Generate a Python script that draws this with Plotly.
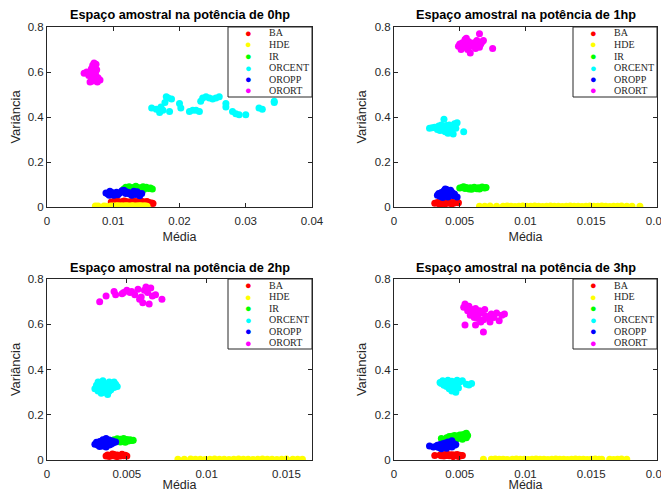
import plotly.graph_objects as go

# ---------------- data ----------------
names = ["BA", "HDE", "IR", "ORCENT", "OROPP", "ORORT"]
colors = ["#FF0000", "#FFFF00", "#00FF00", "#00FFFF", "#0000FF", "#FF00FF"]
titles = ["Espaço amostral na potência de 0hp", "Espaço amostral na potência de 1hp",
          "Espaço amostral na potência de 2hp", "Espaço amostral na potência de 3hp"]
x_label = "Média"
y_label = "Variância"

# ---- 0hp ----
ba_x0 = [0.0097, 0.0101, 0.0105, 0.0108, 0.0112, 0.0115, 0.0118, 0.0121, 0.0124, 0.0127, 0.0130, 0.0133, 0.0136,
         0.0139, 0.0142, 0.0145, 0.0148, 0.0151, 0.0154, 0.0158, 0.0160, 0.0103, 0.0117, 0.0131, 0.0144]
ba_y0 = [0.022, 0.025, 0.020, 0.024, 0.018, 0.026, 0.021, 0.023, 0.019, 0.025, 0.022, 0.020, 0.024,
         0.021, 0.023, 0.019, 0.022, 0.024, 0.020, 0.018, 0.016, 0.028, 0.027, 0.026, 0.025]
hde_x0 = [0.0073, 0.0077, 0.0086, 0.0089, 0.0096, 0.0099, 0.0101, 0.0103, 0.0105, 0.0107, 0.0109, 0.0111, 0.0113,
          0.0115, 0.0117, 0.0119, 0.0121, 0.0123, 0.0125, 0.0127, 0.0129, 0.0131, 0.0133, 0.0135, 0.0137, 0.0139,
          0.0141, 0.0143, 0.0145, 0.0147, 0.0149, 0.0151]
hde_y0 = [0.004, 0.004, 0.004, 0.003, 0.005, 0.004, 0.003, 0.005, 0.004, 0.006, 0.003, 0.004, 0.005,
          0.004, 0.003, 0.006, 0.004, 0.005, 0.003, 0.004, 0.006, 0.004, 0.003, 0.005, 0.004, 0.004,
          0.006, 0.003, 0.004, 0.005, 0.004, 0.003]
ir_x0 = [0.0116, 0.0119, 0.0122, 0.0124, 0.0127, 0.0130, 0.0132, 0.0135, 0.0137, 0.0140, 0.0142, 0.0145, 0.0147,
         0.0150, 0.0153, 0.0156, 0.0159, 0.0121, 0.0134, 0.0146]
ir_y0 = [0.080, 0.088, 0.085, 0.090, 0.083, 0.087, 0.078, 0.089, 0.084, 0.086, 0.080, 0.090, 0.085,
         0.088, 0.082, 0.084, 0.080, 0.076, 0.092, 0.078]
orcent_x0 = [0.0158, 0.0165, 0.0170, 0.0172, 0.0175, 0.0178, 0.0180, 0.0183, 0.0185, 0.0188, 0.0200, 0.0202,
             0.0215, 0.0220, 0.0225, 0.0230, 0.0232, 0.0235, 0.0240, 0.0245, 0.0250, 0.0255, 0.0260, 0.0270,
             0.0270, 0.0280, 0.0285, 0.0290, 0.0300, 0.0320, 0.0325, 0.0343, 0.0343]
orcent_y0 = [0.440, 0.435, 0.420, 0.445, 0.430, 0.465, 0.490, 0.485, 0.425, 0.480, 0.460, 0.440,
             0.425, 0.430, 0.430, 0.425, 0.470, 0.485, 0.490, 0.485, 0.480, 0.485, 0.490, 0.460,
             0.445, 0.425, 0.415, 0.410, 0.410, 0.440, 0.435, 0.465, 0.470]
oropp_x0 = [0.0089, 0.0092, 0.0095, 0.0098, 0.0101, 0.0104, 0.0107, 0.0110, 0.0113, 0.0116, 0.0119, 0.0122,
            0.0125, 0.0128, 0.0131, 0.0134, 0.0137, 0.0140, 0.0143, 0.0094, 0.0105, 0.0118, 0.0127, 0.0136]
oropp_y0 = [0.062, 0.058, 0.070, 0.064, 0.052, 0.060, 0.055, 0.062, 0.072, 0.075, 0.060, 0.066,
            0.058, 0.052, 0.070, 0.056, 0.062, 0.050, 0.060, 0.052, 0.066, 0.070, 0.062, 0.068]
orort_x0 = [0.0056, 0.0060, 0.0063, 0.0065, 0.0067, 0.0068, 0.0069, 0.0070, 0.0071, 0.0072, 0.0073, 0.0074,
            0.0075, 0.0076, 0.0077, 0.0078, 0.0080, 0.0066, 0.0071, 0.0074, 0.0069, 0.0073]
orort_y0 = [0.595, 0.600, 0.585, 0.555, 0.615, 0.580, 0.630, 0.605, 0.570, 0.620, 0.590, 0.635,
            0.610, 0.555, 0.575, 0.565, 0.565, 0.600, 0.640, 0.580, 0.560, 0.600]

# ---- 1hp ----
ba_x1 = [0.0031, 0.0033, 0.0034, 0.0035, 0.0036, 0.0037, 0.0038, 0.0039, 0.0040, 0.0041, 0.0042, 0.0043,
         0.0044, 0.0045, 0.0046, 0.0049, 0.0035, 0.0040, 0.0044]
ba_y1 = [0.017, 0.020, 0.015, 0.018, 0.022, 0.016, 0.020, 0.014, 0.019, 0.023, 0.017, 0.021,
         0.016, 0.020, 0.018, 0.019, 0.013, 0.024, 0.014]
hde_x1 = [0.0065, 0.0069, 0.0073, 0.0078, 0.0083, 0.0086, 0.0089, 0.0092, 0.0095, 0.0098, 0.0101, 0.0104,
          0.0107, 0.0110, 0.0113, 0.0116, 0.0119, 0.0122, 0.0125, 0.0128, 0.0131, 0.0134, 0.0137, 0.0140,
          0.0143, 0.0146, 0.0149, 0.0152, 0.0155, 0.0158, 0.0161, 0.0164, 0.0167, 0.0170, 0.0173, 0.0177,
          0.0181, 0.0187]
hde_y1 = [0.003, 0.003, 0.004, 0.003, 0.003, 0.004, 0.003, 0.002, 0.003, 0.004, 0.003, 0.003,
          0.004, 0.003, 0.002, 0.003, 0.004, 0.003, 0.003, 0.002, 0.003, 0.004, 0.003, 0.003,
          0.002, 0.003, 0.004, 0.003, 0.003, 0.004, 0.003, 0.002, 0.003, 0.003, 0.004, 0.003,
          0.003, 0.003]
ir_x1 = [0.0050, 0.0052, 0.0054, 0.0055, 0.0057, 0.0058, 0.0060, 0.0061, 0.0063, 0.0064, 0.0066, 0.0067,
         0.0069, 0.0070, 0.0053, 0.0059, 0.0065]
ir_y1 = [0.085, 0.088, 0.082, 0.087, 0.080, 0.086, 0.083, 0.088, 0.081, 0.086, 0.084, 0.089,
         0.085, 0.087, 0.090, 0.079, 0.080]
orcent_x1 = [0.0027, 0.0029, 0.0031, 0.0033, 0.0034, 0.0035, 0.0036, 0.0037, 0.0038, 0.0039, 0.0040, 0.0041,
             0.0042, 0.0043, 0.0044, 0.0045, 0.0046, 0.0047, 0.0048, 0.0053, 0.0038, 0.0042, 0.0045, 0.0036,
             0.0041, 0.0044]
orcent_y1 = [0.350, 0.352, 0.355, 0.345, 0.360, 0.340, 0.355, 0.348, 0.390, 0.335, 0.362, 0.345,
             0.330, 0.358, 0.342, 0.325, 0.370, 0.350, 0.375, 0.335, 0.340, 0.365, 0.355, 0.365,
             0.328, 0.348]
oropp_x1 = [0.0033, 0.0034, 0.0035, 0.0036, 0.0037, 0.0038, 0.0039, 0.0040, 0.0041, 0.0042, 0.0043, 0.0044,
            0.0045, 0.0046, 0.0048, 0.0037, 0.0039, 0.0041, 0.0043, 0.0040]
oropp_y1 = [0.052, 0.060, 0.048, 0.065, 0.055, 0.072, 0.050, 0.078, 0.062, 0.070, 0.055, 0.066,
            0.050, 0.058, 0.045, 0.042, 0.080, 0.045, 0.074, 0.060]
orort_x1 = [0.0049, 0.0050, 0.0051, 0.0052, 0.0053, 0.0054, 0.0055, 0.0056, 0.0057, 0.0058, 0.0059, 0.0060,
            0.0061, 0.0062, 0.0063, 0.0064, 0.0065, 0.0066, 0.0067, 0.0068, 0.0075, 0.0065, 0.0055, 0.0058]
orort_y1 = [0.715, 0.725, 0.700, 0.730, 0.710, 0.745, 0.720, 0.700, 0.735, 0.685, 0.725, 0.715,
            0.730, 0.705, 0.740, 0.720, 0.770, 0.725, 0.735, 0.740, 0.705, 0.710, 0.750, 0.715]

# ---- 2hp ----
ba_x2 = [0.0037, 0.0038, 0.0039, 0.0040, 0.0041, 0.0042, 0.0043, 0.0044, 0.0045, 0.0046, 0.0047, 0.0048,
         0.0049, 0.0050, 0.0041, 0.0044, 0.0047]
ba_y2 = [0.018, 0.022, 0.016, 0.021, 0.019, 0.024, 0.017, 0.022, 0.020, 0.018, 0.023, 0.019,
         0.021, 0.018, 0.026, 0.015, 0.025]
hde_x2 = [0.0082, 0.0086, 0.0090, 0.0093, 0.0096, 0.0099, 0.0102, 0.0105, 0.0108, 0.0111, 0.0114, 0.0117,
          0.0120, 0.0123, 0.0126, 0.0129, 0.0132, 0.0135, 0.0138, 0.0141, 0.0144, 0.0147, 0.0150, 0.0154,
          0.0157, 0.0160]
hde_y2 = [0.003, 0.003, 0.004, 0.003, 0.003, 0.002, 0.003, 0.004, 0.003, 0.003, 0.002, 0.003,
          0.004, 0.003, 0.003, 0.002, 0.003, 0.004, 0.003, 0.003, 0.002, 0.003, 0.004, 0.003,
          0.003, 0.003]
ir_x2 = [0.0041, 0.0042, 0.0043, 0.0044, 0.0045, 0.0046, 0.0047, 0.0048, 0.0049, 0.0050, 0.0051, 0.0052,
         0.0053, 0.0054, 0.0046, 0.0049]
ir_y2 = [0.085, 0.090, 0.082, 0.094, 0.088, 0.092, 0.085, 0.095, 0.087, 0.091, 0.084, 0.089,
         0.086, 0.087, 0.080, 0.078]
orcent_x2 = [0.0030, 0.0031, 0.0032, 0.0033, 0.0034, 0.0035, 0.0036, 0.0037, 0.0038, 0.0039, 0.0040, 0.0041,
             0.0042, 0.0043, 0.0044, 0.0032, 0.0034, 0.0036, 0.0038, 0.0040, 0.0042, 0.0035, 0.0037, 0.0039]
orcent_y2 = [0.315, 0.330, 0.305, 0.340, 0.320, 0.350, 0.300, 0.335, 0.325, 0.345, 0.310, 0.340,
             0.320, 0.335, 0.325, 0.345, 0.295, 0.330, 0.290, 0.330, 0.345, 0.320, 0.315, 0.305]
oropp_x2 = [0.0030, 0.0031, 0.0032, 0.0033, 0.0034, 0.0035, 0.0036, 0.0037, 0.0038, 0.0039, 0.0040, 0.0041,
            0.0042, 0.0043, 0.0033, 0.0035, 0.0037, 0.0039, 0.0041, 0.0036]
oropp_y2 = [0.070, 0.078, 0.065, 0.082, 0.072, 0.090, 0.068, 0.095, 0.075, 0.088, 0.070, 0.084,
            0.078, 0.080, 0.060, 0.062, 0.058, 0.066, 0.074, 0.080]
orort_x2 = [0.0033, 0.0037, 0.0042, 0.0043, 0.0047, 0.0050, 0.0052, 0.0053, 0.0055, 0.0057, 0.0058, 0.0060,
            0.0062, 0.0063, 0.0064, 0.0065, 0.0066, 0.0068, 0.0072, 0.0059, 0.0048, 0.0061]
orort_y2 = [0.700, 0.725, 0.745, 0.730, 0.735, 0.750, 0.740, 0.745, 0.730, 0.755, 0.710, 0.695,
            0.765, 0.740, 0.690, 0.760, 0.725, 0.730, 0.710, 0.720, 0.740, 0.750]

# ---- 3hp ----
ba_x3 = [0.0031, 0.0035, 0.0036, 0.0037, 0.0038, 0.0039, 0.0040, 0.0041, 0.0042, 0.0043, 0.0044, 0.0045,
         0.0046, 0.0047, 0.0048, 0.0049, 0.0050, 0.0051, 0.0052, 0.0040, 0.0045]
ba_y3 = [0.020, 0.022, 0.019, 0.023, 0.018, 0.022, 0.020, 0.024, 0.019, 0.021, 0.023, 0.018,
         0.022, 0.020, 0.024, 0.016, 0.021, 0.019, 0.020, 0.026, 0.015]
hde_x3 = [0.0068, 0.0074, 0.0077, 0.0080, 0.0083, 0.0086, 0.0090, 0.0093, 0.0096, 0.0099, 0.0102, 0.0105,
          0.0108, 0.0111, 0.0114, 0.0117, 0.0120, 0.0123, 0.0126, 0.0129, 0.0132, 0.0135, 0.0138, 0.0141,
          0.0144, 0.0147, 0.0150, 0.0153, 0.0156, 0.0158, 0.0164, 0.0167, 0.0170, 0.0173, 0.0177]
hde_y3 = [0.003, 0.003, 0.004, 0.003, 0.003, 0.002, 0.003, 0.004, 0.003, 0.003, 0.002, 0.003,
          0.004, 0.003, 0.003, 0.002, 0.003, 0.004, 0.003, 0.003, 0.002, 0.003, 0.004, 0.003,
          0.003, 0.002, 0.003, 0.004, 0.003, 0.003, 0.003, 0.002, 0.003, 0.004, 0.003]
ir_x3 = [0.0036, 0.0040, 0.0042, 0.0043, 0.0044, 0.0045, 0.0046, 0.0047, 0.0048, 0.0049, 0.0050, 0.0051,
         0.0052, 0.0053, 0.0054, 0.0055, 0.0056, 0.0048, 0.0052, 0.0055]
ir_y3 = [0.095, 0.098, 0.104, 0.096, 0.105, 0.100, 0.108, 0.098, 0.106, 0.102, 0.110, 0.100,
         0.112, 0.104, 0.115, 0.098, 0.108, 0.094, 0.092, 0.118]
orcent_x3 = [0.0035, 0.0036, 0.0037, 0.0038, 0.0039, 0.0040, 0.0041, 0.0042, 0.0043, 0.0044, 0.0045, 0.0046,
             0.0047, 0.0048, 0.0049, 0.0050, 0.0052, 0.0055, 0.0057, 0.0059, 0.0044, 0.0046, 0.0048, 0.0042]
orcent_y3 = [0.342, 0.338, 0.350, 0.330, 0.345, 0.325, 0.352, 0.335, 0.320, 0.348, 0.310, 0.340,
             0.300, 0.352, 0.318, 0.345, 0.350, 0.335, 0.332, 0.338, 0.305, 0.325, 0.330, 0.315]
oropp_x3 = [0.0027, 0.0030, 0.0032, 0.0033, 0.0034, 0.0035, 0.0036, 0.0037, 0.0038, 0.0039, 0.0040, 0.0041,
            0.0042, 0.0043, 0.0044, 0.0045, 0.0046, 0.0047, 0.0036, 0.0040, 0.0044]
oropp_y3 = [0.062, 0.058, 0.060, 0.065, 0.055, 0.068, 0.060, 0.072, 0.058, 0.075, 0.064, 0.080,
            0.062, 0.070, 0.058, 0.074, 0.065, 0.068, 0.050, 0.052, 0.085]
orort_x3 = [0.0053, 0.0054, 0.0056, 0.0057, 0.0058, 0.0059, 0.0060, 0.0061, 0.0062, 0.0063, 0.0064, 0.0065,
            0.0066, 0.0067, 0.0068, 0.0069, 0.0070, 0.0072, 0.0074, 0.0076, 0.0078, 0.0080, 0.0082, 0.0084,
            0.0054, 0.0062, 0.0068, 0.0073]
orort_y3 = [0.675, 0.690, 0.660, 0.680, 0.640, 0.665, 0.650, 0.630, 0.670, 0.645, 0.625, 0.660,
            0.610, 0.650, 0.620, 0.665, 0.635, 0.625, 0.645, 0.630, 0.650, 0.615, 0.640, 0.645,
            0.597, 0.597, 0.566, 0.610]

panels = [
    [(ba_x0, ba_y0), (hde_x0, hde_y0), (ir_x0, ir_y0), (orcent_x0, orcent_y0), (oropp_x0, oropp_y0), (orort_x0, orort_y0)],
    [(ba_x1, ba_y1), (hde_x1, hde_y1), (ir_x1, ir_y1), (orcent_x1, orcent_y1), (oropp_x1, oropp_y1), (orort_x1, orort_y1)],
    [(ba_x2, ba_y2), (hde_x2, hde_y2), (ir_x2, ir_y2), (orcent_x2, orcent_y2), (oropp_x2, oropp_y2), (orort_x2, orort_y2)],
    [(ba_x3, ba_y3), (hde_x3, hde_y3), (ir_x3, ir_y3), (orcent_x3, orcent_y3), (oropp_x3, oropp_y3), (orort_x3, orort_y3)],
]
x_ranges = [[0, 0.04], [0, 0.02], [0, 0.0166], [0, 0.02]]
x_dticks = [0.01, 0.005, 0.005, 0.005]

# ---------------- layout (page pixels) ----------------
PAGE_W, PAGE_H = 669, 500
OFF = 8  # default page body margin
W, H = PAGE_W - 2 * OFF, PAGE_H - 2 * OFF  # figure fits the window exactly
ax_px = [  # left, right, top, bottom (page pixels)
    (47, 312, 27, 207),
    (394, 657, 27, 207),
    (47, 312, 279, 460),
    (394, 657, 279, 460),
]
title_y_px = [15, 15, 268, 268]


def px(xp):
    return (xp - OFF) / W


def py(yp):
    return 1 - (yp - OFF) / H


TXT = "#262626"
SANS = "Liberation Sans, Arial, Helvetica, sans-serif"
SERIF = "Liberation Serif, Times New Roman, serif"

fig = go.Figure()
annotations = []
shapes = []

for i, (data, (l, r, t, b)) in enumerate(zip(panels, ax_px)):
    sfx = "" if i == 0 else str(i + 1)
    for (xs, ys), nm, col in zip(data, names, colors):
        fig.add_trace(go.Scatter(
            x=xs, y=ys, mode="markers", name=nm, showlegend=False,
            marker=dict(color=col, size=7, line=dict(width=0)),
            xaxis="x" + sfx, yaxis="y" + sfx))

    axis_common = dict(showline=True, linecolor=TXT, linewidth=1, mirror="ticks",
                       ticks="inside", ticklen=4, tickcolor=TXT, tickwidth=1,
                       showgrid=False, zeroline=False, automargin=False,
                       tickfont=dict(family=SANS, size=11.5, color=TXT))
    fig.layout["xaxis" + sfx] = dict(
        axis_common, domain=[px(l), min(px(r), 1.0)], range=x_ranges[i], dtick=x_dticks[i], tick0=0,
        anchor="y" + sfx, ticklabelstandoff=3, ticklabeloverflow="allow",
        title=dict(text=x_label, font=dict(family=SANS, size=12.5, color=TXT), standoff=6))
    fig.layout["yaxis" + sfx] = dict(
        axis_common, domain=[py(b), py(t)], range=[0, 0.8], dtick=0.2, tick0=0,
        anchor="x" + sfx,
        title=dict(text=y_label, font=dict(family=SANS, size=13, color=TXT), standoff=5))

    annotations.append(dict(text="<b>" + titles[i] + "</b>", xref="paper", yref="paper",
                            x=px((l + r) / 2), y=py(title_y_px[i]), showarrow=False,
                            xanchor="center", yanchor="middle",
                            font=dict(family=SANS, size=12.7, color="#000000")))

    # compact MATLAB-style legend box
    bx0, bx1, by0, by1 = r - 84, r, t, t + 70
    shapes.append(dict(type="rect", xref="paper", yref="paper",
                       x0=px(bx0), x1=min(px(bx1), 1.0), y0=py(by1), y1=py(by0),
                       line=dict(color=TXT, width=1), fillcolor="white", layer="above"))
    for k, (nm, col) in enumerate(zip(names, colors)):
        cy = by0 + 6 + 11.5 * k
        annotations.append(dict(text="●", xref="paper", yref="paper",
                                x=px(bx0 + 20), y=py(cy), showarrow=False,
                                xanchor="center", yanchor="middle",
                                font=dict(family=SANS, size=11, color=col)))
        annotations.append(dict(text=nm, xref="paper", yref="paper",
                                x=px(bx0 + 39), y=py(cy), showarrow=False,
                                xanchor="left", yanchor="middle",
                                font=dict(family=SERIF, size=10, color=TXT)))

fig.update_layout(template="none", width=W, height=H,
                  margin=dict(l=0, r=0, t=0, b=0, autoexpand=False),
                  paper_bgcolor="white", plot_bgcolor="white", showlegend=False,
                  font=dict(family=SANS, color=TXT),
                  annotations=annotations, shapes=shapes)

fig.write_html("out.html")
